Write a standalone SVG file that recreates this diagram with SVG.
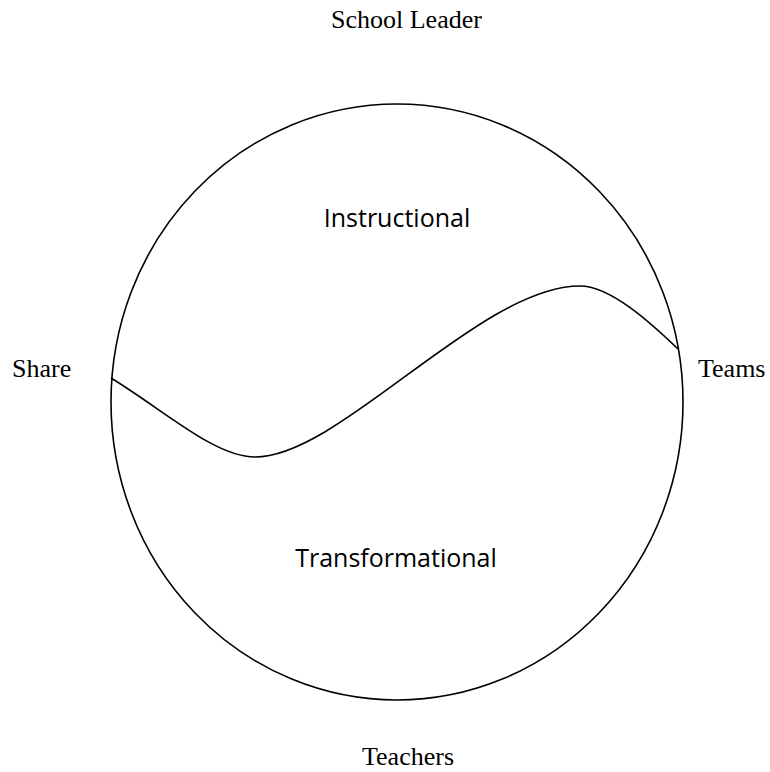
<svg xmlns="http://www.w3.org/2000/svg" width="770" height="772" viewBox="0 0 770 772">
<style>
.lbl{font-family:"Liberation Serif","Times New Roman",serif;font-size:26px;fill:#000}
.reg{font-family:"Open Sans","Noto Sans",sans-serif;font-size:25px;fill:#000;text-anchor:middle}
.ln{fill:none;stroke:#000;stroke-width:1.6}
</style>
<rect width="770" height="772" fill="#fff"/>
<g id="labels">
<text class="lbl" x="331" y="28">School Leader</text>
<text class="lbl" x="12" y="377">Share</text>
<text class="lbl" x="698" y="377">Teams</text>
<text class="lbl" x="362" y="765">Teachers</text>
</g>
<g id="circle">
<ellipse class="ln" cx="397" cy="402" rx="286" ry="298"/>
</g>
<g id="connectors">
<path class="ln" d="M111,378 C165,411 215,457 255,457 C340,457 480,286 580,286 C610,286 650,322 678,349"/>
</g>
<g id="instructional"><text class="reg" x="397" y="227">Instructional</text></g>
<g id="transformational"><text class="reg" x="396" y="567">Transformational</text></g>
</svg>
